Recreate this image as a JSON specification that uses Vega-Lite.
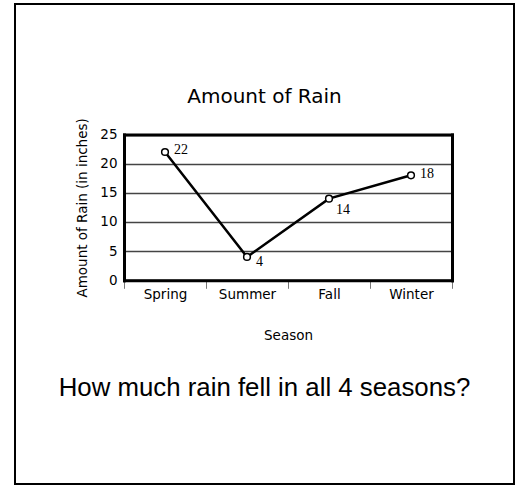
{
  "$schema": "https://vega.github.io/schema/vega-lite/v6.json",
  "autosize": {"type": "none"},
  "padding": {"left": 15, "top": 4, "right": 4, "bottom": 1},
  "width": 499,
  "height": 480,
  "background": "white",
  "title": {
    "text": "Amount of Rain",
    "subtitle": "How much rain fell in all 4 seasons?",
    "anchor": "middle",
    "frame": "group",
    "orient": "top",
    "offset": -397,
    "font": "DejaVu Sans",
    "fontSize": 20,
    "fontWeight": "normal",
    "color": "black",
    "subtitleFont": "Liberation Sans",
    "subtitleFontSize": 25.8,
    "subtitleColor": "black",
    "subtitlePadding": 269.5
  },
  "data": {
    "values": [
      {"season": "Spring", "rain": 22},
      {"season": "Summer", "rain": 4},
      {"season": "Fall", "rain": 14},
      {"season": "Winter", "rain": 18}
    ]
  },
  "layer": [
    {
      "mark": {"type": "line", "color": "black", "strokeWidth": 2.5},
      "encoding": {
        "x": {
          "field": "season",
          "type": "nominal",
          "sort": ["Spring", "Summer", "Fall", "Winter"],
          "scale": {"type": "band", "domain": ["Spring", "Summer", "Fall", "Winter"], "range": [109, 437], "paddingInner": 0, "paddingOuter": 0},
          "axis": {
            "orient": "bottom",
            "offset": -203.7,
            "domain": true,
            "domainColor": "black",
            "domainWidth": 3,
            "domainCap": "square",
            "ticks": true,
            "tickBand": "extent",
            "tickSize": 8,
            "tickColor": "#777777",
            "tickWidth": 1,
            "grid": false,
            "labelAngle": 0,
            "labelPadding": -1,
            "labelFont": "DejaVu Sans",
            "labelFontSize": 13.5,
            "labelColor": "black",
            "title": "Season",
            "titleFont": "DejaVu Sans",
            "titleFontSize": 13.5,
            "titleFontWeight": "normal",
            "titleColor": "black",
            "titlePadding": 28
          }
        },
        "y": {
          "field": "rain",
          "type": "quantitative",
          "scale": {"domain": [0, 25], "range": [276.3, 130.5], "nice": false, "zero": true},
          "axis": {
            "orient": "left",
            "offset": -109,
            "values": [0, 5, 10, 15, 20, 25],
            "grid": true,
            "gridColor": "#444444",
            "gridWidth": 1.3,
            "domain": true,
            "domainColor": "black",
            "domainWidth": 3,
            "domainCap": "square",
            "ticks": false,
            "labelPadding": 7,
            "labelFont": "DejaVu Sans",
            "labelFontSize": 13.5,
            "labelColor": "black",
            "title": "Amount of Rain (in inches)",
            "titleFont": "DejaVu Sans",
            "titleFontSize": 13.5,
            "titleFontWeight": "normal",
            "titleColor": "black",
            "titlePadding": 10
          }
        }
      }
    },
    {
      "mark": {"type": "point", "shape": "circle", "filled": true, "fill": "white", "stroke": "black", "strokeWidth": 1.5, "size": 45, "opacity": 1},
      "encoding": {
        "x": {
          "field": "season",
          "type": "nominal",
          "sort": ["Spring", "Summer", "Fall", "Winter"],
          "axis": {"orient": "top", "offset": -130.5, "domain": true, "domainColor": "black", "domainWidth": 3, "domainCap": "square", "ticks": false, "labels": false, "grid": false, "title": null}
        },
        "y": {
          "field": "rain",
          "type": "quantitative",
          "axis": {"orient": "right", "offset": -62, "values": [0, 25], "domain": true, "domainColor": "black", "domainWidth": 3, "domainCap": "square", "ticks": false, "labels": false, "grid": false, "title": null}
        }
      }
    },
    {
      "transform": [{"filter": {"field": "season", "oneOf": ["Spring", "Winter"]}}],
      "mark": {"type": "text", "align": "left", "baseline": "middle", "dx": 9, "dy": -1.5, "font": "Liberation Serif", "fontSize": 14, "color": "black"},
      "encoding": {
        "x": {"field": "season", "type": "nominal", "sort": ["Spring", "Summer", "Fall", "Winter"], "axis": null},
        "y": {"field": "rain", "type": "quantitative", "axis": null},
        "text": {"field": "rain", "type": "quantitative"}
      }
    },
    {
      "transform": [{"filter": {"field": "season", "equal": "Summer"}}],
      "mark": {"type": "text", "align": "left", "baseline": "middle", "dx": 9, "dy": 5.5, "font": "Liberation Serif", "fontSize": 14, "color": "black"},
      "encoding": {
        "x": {"field": "season", "type": "nominal", "sort": ["Spring", "Summer", "Fall", "Winter"], "axis": null},
        "y": {"field": "rain", "type": "quantitative", "axis": null},
        "text": {"field": "rain", "type": "quantitative"}
      }
    },
    {
      "transform": [{"filter": {"field": "season", "equal": "Fall"}}],
      "mark": {"type": "text", "align": "left", "baseline": "middle", "dx": 7, "dy": 11, "font": "Liberation Serif", "fontSize": 14, "color": "black"},
      "encoding": {
        "x": {"field": "season", "type": "nominal", "sort": ["Spring", "Summer", "Fall", "Winter"], "axis": null},
        "y": {"field": "rain", "type": "quantitative", "axis": null},
        "text": {"field": "rain", "type": "quantitative"}
      }
    }
  ],
  "resolve": {"axis": {"x": "independent", "y": "independent"}},
  "config": {"view": {"stroke": "black", "strokeWidth": 2, "fill": "white"}}
}
